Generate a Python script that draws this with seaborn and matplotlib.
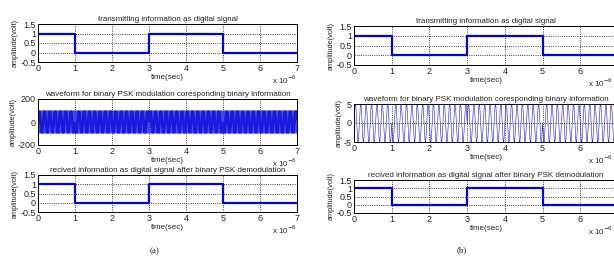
import numpy as np
import pandas as pd
import matplotlib
matplotlib.use("Agg")
import matplotlib.pyplot as plt
import seaborn as sns

# bit sequence, one bit per microsecond
bits = [1, 0, 0, 1, 1, 0, 0]
bit_time = 1e-6
# carrier settings
amp_a, cycles_a = 100, 30
amp_b, cycles_b = 5, 7

titles = ["transmitting information as digital signal",
          "waveform for binary PSK modulation coresponding binary information",
          "recived information as digital signal after binary PSK demodulation"]
step_yticks = [-0.5, 0, 0.5, 1, 1.5]

sns.set_style("white")
plt.rcParams["font.family"] = ["Liberation Sans", "DejaVu Sans"]
plt.rcParams["font.size"] = 6

def step_frame():
    t = np.arange(len(bits) + 1) * bit_time
    return pd.DataFrame({"t": t, "v": bits + [bits[-1]]})

def psk_frame(amp, cycles):
    n = 60 * cycles
    rows = []
    for i, b in enumerate(bits):
        tt = np.linspace(0, 1, n, endpoint=False)
        phase = 0 if b == 1 else np.pi
        rows.append(pd.DataFrame({"t": (i + tt) * bit_time,
                                  "v": amp * np.sin(2 * np.pi * cycles * tt + phase)}))
    return pd.concat(rows)

def style(ax, title, yticks, ylim, exp_y, last_label, exp_x):
    ax.set_xlim(0, len(bits) * bit_time)
    ax.set_ylim(*ylim)
    ax.set_yticks(yticks)
    ax.set_yticklabels([f"{y:g}" for y in yticks])
    xt = np.arange(0, len(bits) + 1)
    ax.set_xticks(xt * bit_time)
    labels = [str(x) for x in xt]
    if not last_label:
        labels[-1] = ""   # falls outside the picture in the reference
    ax.set_xticklabels(labels)
    ax.grid(True, color="black", linestyle=":", linewidth=0.6)
    ax.set_title(title, fontsize=5.8, pad=2.5)
    ax.set_xlabel("time(sec)", fontsize=5.8, labelpad=0.5)
    ax.set_ylabel("amplitude(volt)", fontsize=5.3, labelpad=1)
    ax.tick_params(direction="in", length=2, pad=1.5, labelsize=6.5)
    for s in ax.spines.values():
        s.set_color("black")
        s.set_linewidth(0.7)
    ax.text(exp_x, exp_y, r"x 10$^{-6}$", transform=ax.transAxes,
            ha="right", va="center", fontsize=5.8)

fig = plt.figure(figsize=(6.14, 2.56), dpi=100)

cols = [
    (38 / 614, 259 / 614, [(24, 62), (99, 145), (175, 212)], amp_a, cycles_a, 0.9, True),
    (354 / 614, 264 / 614, [(26, 65), (104, 142), (180, 213)], amp_b, cycles_b, 0.8, False),
]
for left, width, rows, amp, cyc, lw, last in cols:
    exp_x = 1.0 if last else (613 / 614 - left) / width
    for k, (top, bot) in enumerate(rows):
        ax = fig.add_axes([left, 1 - bot / 256, width, (bot - top) / 256])
        exp_y = -0.46 * 38 / (bot - top)
        if k == 1:
            df = psk_frame(amp, cyc)
            sns.lineplot(data=df, x="t", y="v", ax=ax, color="#1a1adc",
                         linewidth=lw * 0.5, estimator=None, sort=False)
            style(ax, titles[k], [-2 * amp, 0, 2 * amp] if amp > 10 else [-amp, 0, amp],
                  (-2 * amp, 2 * amp) if amp > 10 else (-amp, amp), exp_y, last, exp_x)
        else:
            df = step_frame()
            sns.lineplot(data=df, x="t", y="v", ax=ax, color="#0000e6",
                         linewidth=1.6, drawstyle="steps-post", estimator=None)
            style(ax, titles[k], step_yticks, (-0.5, 1.5), exp_y, last, exp_x)

fig.text(155 / 614, 1 - 251 / 256, "(a)", family="Liberation Serif", fontsize=6.5, ha="center", va="center")
fig.text(462 / 614, 1 - 250 / 256, "(b)", family="Liberation Serif", fontsize=6.5, ha="center", va="center")

fig.savefig("out.png", dpi=100, facecolor="white")
